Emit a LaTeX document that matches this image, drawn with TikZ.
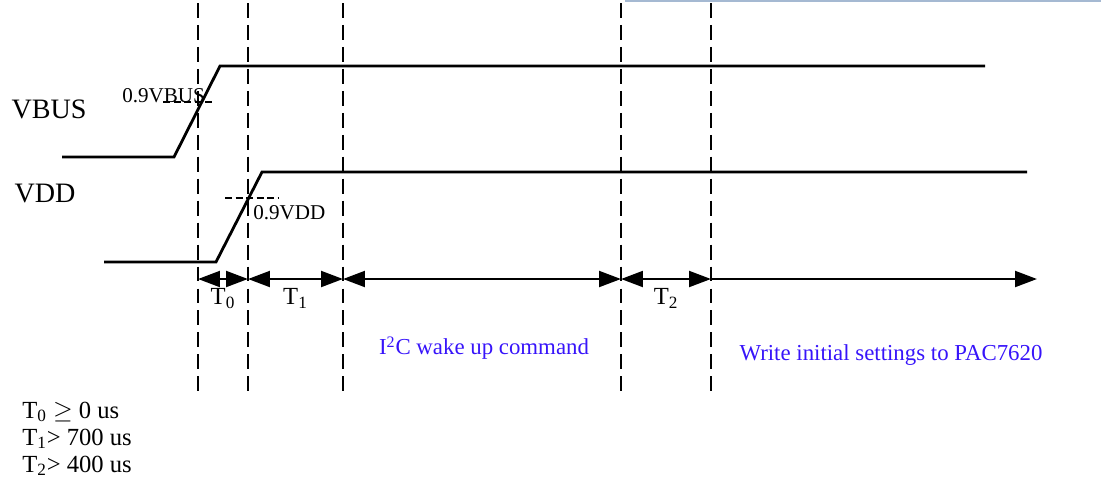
\documentclass[tikz,border=0pt]{standalone}
\usepackage{fontspec}
\setmainfont{Liberation Serif}
\usetikzlibrary{arrows.meta}
\definecolor{cmdblue}{RGB}{55,20,250}
\definecolor{edgeblue}{RGB}{165,185,210}

\begin{document}
\begin{tikzpicture}[x=0.02cm, y=-0.02cm,
	sig/.style={line width=1.6pt, line join=miter},
	vline/.style={line width=1pt, dash pattern=on 8.5pt off 4pt},
	lvl/.style={line width=0.6pt, dash pattern=on 4pt off 2pt},
	span/.style={line width=1.5pt, {Triangle[length=12.5pt,width=9pt]}-{Triangle[length=12.5pt,width=9pt]}},
	spanend/.style={line width=1.5pt, -{Triangle[length=12.5pt,width=9pt]}},
	big/.style={font=\fontsize{16}{19}\selectfont},
	small/.style={font=\fontsize{12}{14}\selectfont, inner sep=0pt},
	lbl/.style={font=\fontsize{14}{16}\selectfont},
	cmd/.style={font=\fontsize{13}{15}\selectfont, text=cmdblue}]
	\useasboundingbox (0,0) rectangle (1101,481);
	% page edge
	\draw[edgeblue, line width=0.6pt] (625,1) -- (1101,1);
	% signal names
	\node[big] (vbus) at (49,109) {VBUS};
	\node[big] (vdd) at (45,193) {VDD};
	% time marks
	\coordinate (da1) at (198,3);
	\coordinate (da2) at (198,395);
	\coordinate (db1) at (248,3);
	\coordinate (db2) at (248,395);
	\coordinate (dc1) at (343,3);
	\coordinate (dc2) at (343,395);
	\coordinate (dd1) at (621,3);
	\coordinate (dd2) at (621,395);
	\coordinate (de1) at (711,3);
	\coordinate (de2) at (711,395);
	\draw[vline] (da1) -- (da2);
	\draw[vline] (db1) -- (db2);
	\draw[vline] (dc1) -- (dc2);
	\draw[vline] (dd1) -- (dd2);
	\draw[vline] (de1) -- (de2);
	% VBUS
	\coordinate (bus0) at (62,157);
	\coordinate (bus1) at (174,157);
	\coordinate (bus2) at (220,66);
	\coordinate (bus3) at (985,66);
	\draw[sig] (bus0) -- (bus1) -- (bus2) -- (bus3);
	\coordinate (busl) at (163,102);
	\coordinate (busr) at (215,102);
	\draw[lvl] (busl) -- (busr);
	\node[small, anchor=base west] (busth) at (122,102) {0.9VBUS};
	% VDD
	\coordinate (vdd0) at (104,262);
	\coordinate (vdd1) at (216,262);
	\coordinate (vdd2) at (262,172);
	\coordinate (vdd3) at (1027,172);
	\draw[sig] (vdd0) -- (vdd1) -- (vdd2) -- (vdd3);
	\coordinate (vddl) at (225,198);
	\coordinate (vddr) at (278,198);
	\draw[lvl] (vddl) -- (vddr);
	\node[small, anchor=base west] (vddth) at (253,219) {0.9VDD};
	% intervals
	\coordinate (ta) at (198,279);
	\coordinate (tb) at (248,279);
	\coordinate (tc) at (343,279);
	\coordinate (td) at (621,279);
	\coordinate (te) at (711,279);
	\coordinate (tf) at (1037,279);
	\draw[span] (ta) -- node[lbl, below=1.5pt] (t0) {T\textsubscript{0}} (tb);
	\draw[span] (tb) -- node[lbl, below=1.5pt] (t1) {T\textsubscript{1}} (tc);
	\draw[span] (tc) -- (td);
	\draw[span] (td) -- node[lbl, below=1.5pt] (t2) {T\textsubscript{2}} (te);
	\draw[spanend] (te) -- (tf);
	\node[cmd] (wake) at (484,348) {I\textsuperscript{2}C wake up command};
	\node[cmd] (init) at (891,355) {Write initial settings to PAC7620};
	% conditions
	\node[lbl, inner sep=0pt, anchor=base west] (c0) at (22,418) {T\textsubscript{0} $\geq$ 0 us};
	\node[lbl, inner sep=0pt, anchor=base west] (c1) at (22,445) {T\textsubscript{1}> 700 us};
	\node[lbl, inner sep=0pt, anchor=base west] (c2) at (22,472) {T\textsubscript{2}> 400 us};
\end{tikzpicture}
\end{document}
